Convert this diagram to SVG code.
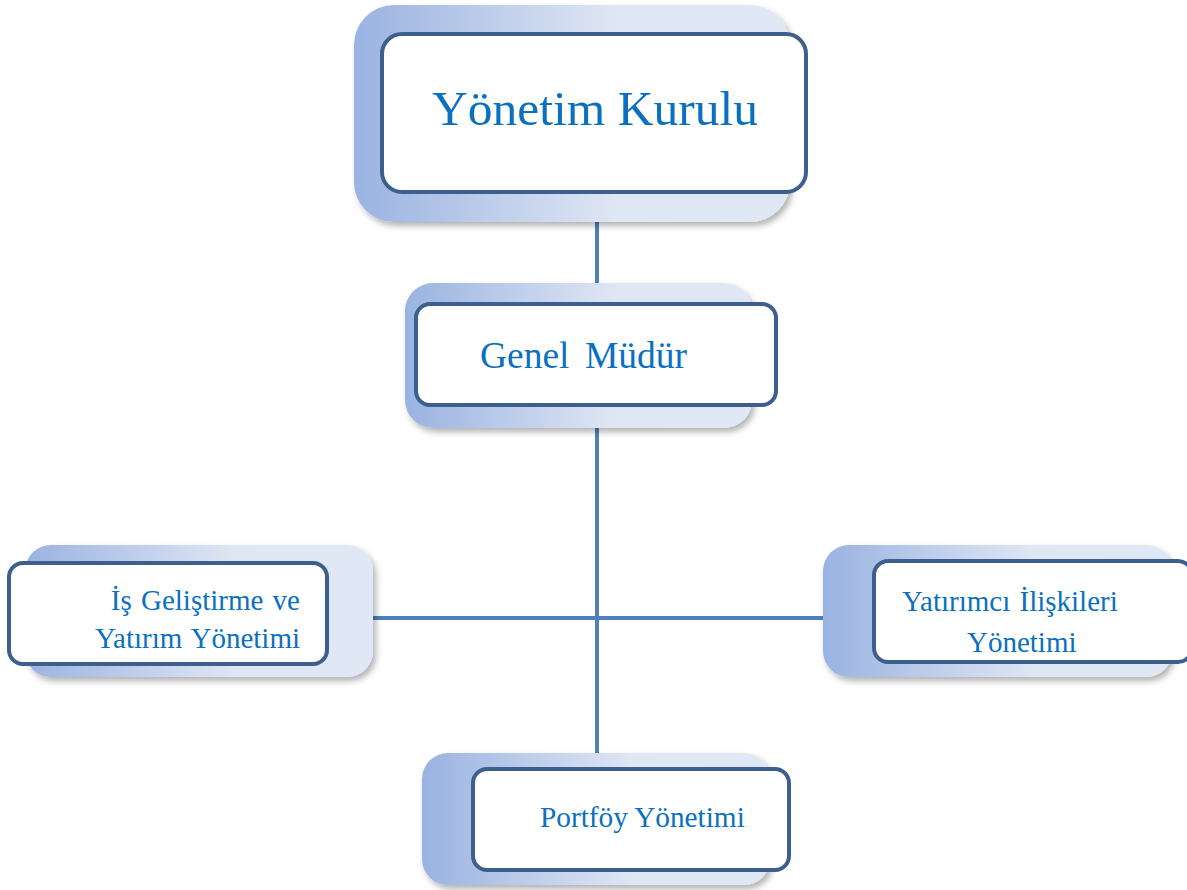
<svg xmlns="http://www.w3.org/2000/svg" width="1187" height="890" viewBox="0 0 1187 890">
<defs>
<linearGradient id="bg" x1="0" y1="0" x2="1" y2="0">
<stop offset="0" stop-color="#9ab3e1"/>
<stop offset="0.6" stop-color="#dfe6f4"/>
<stop offset="1" stop-color="#e1e8f5"/>
</linearGradient>
<filter id="sh" x="-10%" y="-10%" width="125%" height="130%">
<feDropShadow dx="3" dy="4" stdDeviation="3" flood-color="#000" flood-opacity="0.3"/>
</filter>
</defs>
<style>
.back{fill:url(#bg);filter:url(#sh);}
.front{fill:#fff;stroke:#3c5f8e;stroke-width:4;}
.t{font-family:"Liberation Serif","Times New Roman",serif;fill:#0a70bf;}
.c{stroke:#4f7fbd;stroke-width:4;fill:none;}
</style>
<rect width="1187" height="890" fill="#fff"/>
<g id="connectors">
<line class="c" x1="597" y1="220" x2="597" y2="285"/>
<line class="c" x1="597" y1="426" x2="597" y2="755"/>
<line class="c" x1="372" y1="618" x2="825" y2="618"/>
</g>
<g id="yonetim-kurulu">
<rect class="back" x="354" y="5" width="436" height="217" rx="40"/>
<rect class="front" x="382" y="34" width="424" height="158" rx="20"/>
<text class="t" x="595" y="125" font-size="49.5" text-anchor="middle">Yönetim Kurulu</text>
</g>
<g id="genel-mudur">
<rect class="back" x="405" y="283" width="347" height="145" rx="28"/>
<rect class="front" x="416" y="304" width="360" height="101" rx="14"/>
<text class="t" x="480" y="368" font-size="37.5" word-spacing="6">Genel Müdür</text>
</g>
<g id="is-gelistirme">
<rect class="back" x="25" y="545" width="348" height="132" rx="26"/>
<rect class="front" x="9" y="563" width="318" height="101" rx="14"/>
<text class="t" font-size="29" text-anchor="end" word-spacing="2"><tspan x="300" y="610">İş Geliştirme ve</tspan><tspan x="300" y="648">Yatırım Yönetimi</tspan></text>
</g>
<g id="yatirimci-iliskileri">
<rect class="back" x="823" y="545" width="349" height="132" rx="26"/>
<rect class="front" x="874" y="561" width="318" height="101" rx="14"/>
<text class="t" font-size="29" word-spacing="2"><tspan x="902" y="611">Yatırımcı İlişkileri</tspan><tspan x="967" y="652">Yönetimi</tspan></text>
</g>
<g id="portfoy-yonetimi">
<rect class="back" x="422" y="753" width="348" height="132" rx="26"/>
<rect class="front" x="473" y="769" width="316" height="101" rx="14"/>
<text class="t" x="540" y="827" font-size="29.3">Portföy Yönetimi</text>
</g>
</svg>
